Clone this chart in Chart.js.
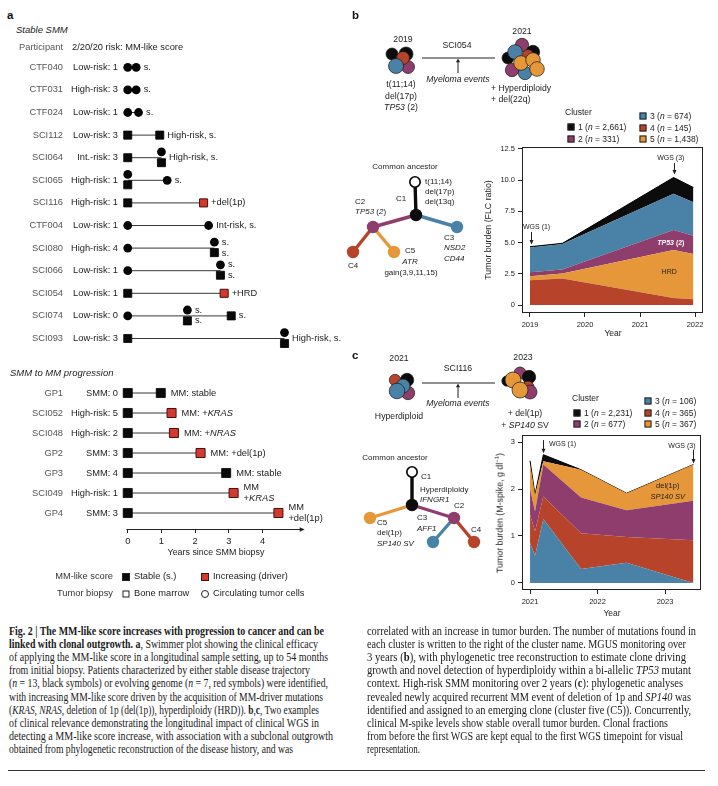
<!DOCTYPE html>
<html>
<head>
<meta charset="utf-8">
<script src="https://cdn.jsdelivr.net/npm/chart.js@4.4.0/dist/chart.umd.min.js"></script>
<style>
body{margin:0;width:718px;height:786px;position:relative;overflow:hidden;background:#fff;font-family:"Liberation Sans",Arial,sans-serif;color:#222}
.tx{position:absolute;white-space:nowrap;line-height:1;font-size:9.3px}
.box{position:absolute}
.cap{position:absolute;white-space:nowrap;line-height:1;font-family:"Liberation Serif",serif;font-size:11.8px;color:#1a1a1a;transform-origin:0 50%}
.rule{position:absolute;left:8px;top:770px;width:697px;height:1px;background:#333}
</style>
</head>
<body>
<div class="box" id="ovBox" style="left:340px;top:0;width:378px;height:560px"><canvas id="ov"></canvas></div>
<div class="box" style="left:0;top:55.7px;width:360px;height:293.8px"><canvas id="stable"></canvas></div>
<div class="box" style="left:0;top:383px;width:360px;height:172px"><canvas id="prog"></canvas></div>
<div class="box" style="left:495px;top:140px;width:223px;height:193px"><canvas id="chartB"></canvas></div>
<div class="box" style="left:495px;top:428px;width:223px;height:182px"><canvas id="chartC"></canvas></div>
<div class="rule"></div>
<script>
// ---------- panel a : swimmer data ----------
const stableIds = ['CTF040','CTF031','CTF024','SCI112','SCI064','SCI065','SCI116','CTF004','SCI080','SCI066','SCI054','SCI074','SCI093'];
const stableRisk = ['Low-risk: 1','High-risk: 3','Low-risk: 1','Low-risk: 3','Int.-risk: 3','High-risk: 1','High-risk: 1','Low-risk: 1','High-risk: 4','Low-risk: 1','Low-risk: 1','Low-risk: 0','Low-risk: 3'];
const stableEnd = [0.25, 0.25, 0.32, 0.95, 1.0, 1.17, 2.25, 2.4, 2.57, 2.75, 2.86, 3.07, 4.65];
// samples per row: [years, row offset, kind]  c = CTC stable, s = marrow stable, r = marrow increasing
const stableMarks = [
  [[0,0,'c'],[0.25,0,'c']],
  [[0,0,'c'],[0.25,0,'c']],
  [[0,0,'c'],[0.32,0,'c']],
  [[0,0,'s'],[0.95,0,'s']],
  [[0,0,'s'],[1.0,-0.26,'c'],[1.0,0.22,'s']],
  [[0,-0.26,'c'],[0,0.2,'s'],[1.17,0,'c']],
  [[0,0,'s'],[2.25,0,'r']],
  [[0,0,'c'],[2.4,0,'c']],
  [[0,0,'c'],[2.57,-0.26,'c'],[2.57,0.2,'s']],
  [[0,0,'c'],[2.75,-0.26,'c'],[2.75,0.2,'s']],
  [[0,0,'s'],[2.86,0,'r']],
  [[0,0,'c'],[1.77,-0.26,'c'],[1.77,0.22,'s'],[3.07,0,'s']],
  [[0,0,'s'],[4.65,-0.26,'c'],[4.65,0.22,'s']]
];
const stableNotes = [
  [0,0.25,0,'s.'],[1,0.25,0,'s.'],[2,0.32,0,'s.'],[3,0.95,0,'High-risk, s.'],[4,1.0,0,'High-risk, s.'],
  [5,1.17,0,'s.'],[6,2.25,0,'+del(1p)'],[7,2.4,0,'Int-risk, s.'],[8,2.57,-0.26,'s.'],[8,2.57,0.22,'s.'],
  [9,2.75,-0.26,'s.'],[9,2.75,0.22,'s.'],[10,2.86,0,'+HRD'],[11,1.77,-0.26,'s.'],[11,1.77,0.22,'s.'],
  [11,3.07,0,'s.'],[12,4.65,0,'High-risk, s.']
];
const progIds = ['GP1','SCI052','SCI048','GP2','GP3','SCI049','GP4'];
const progRisk = ['SMM: 0','High-risk: 5','High-risk: 2','SMM: 3','SMM: 4','High-risk: 1','SMM: 3'];
const progEnd = [0.98, 1.3, 1.37, 2.16, 2.92, 3.14, 4.47];
const progKind = ['s','r','r','r','s','r','r'];
const progNotes = ['MM: stable','MM: +<i>KRAS</i>','MM: +<i>NRAS</i>','MM: +del(1p)','MM: stable','MM\n+<i>KRAS</i>','MM\n+del(1p)'];
const yearTicksA = [0, 1, 2, 3, 4];

// ---------- panel b : FLC ratio, stacked clusters ----------
const yearsB = [2019.0, 2019.59, 2021.61, 2021.97];
const fourB  = [1.98, 2.12, 0.56, 0.46];
const fiveB  = [0.33, 0.40, 3.84, 3.62];
const twoB   = [0.32, 0.32, 1.61, 1.47];
const threeB = [1.98, 2.04, 2.90, 2.68];
const oneB   = [0.06, 0.06, 1.31, 1.19];
const xTicksB = [2019, 2020, 2021, 2022];
const yTicksB = [0, 2.5, 5, 7.5, 10, 12.5];
const yLabelsB = ['0', '2.5', '5.0', '7.5', '10.0', '12.5'];
const legendB = ['1 (<i>n</i> = 2,661)','2 (<i>n</i> = 331)','3 (<i>n</i> = 674)','4 (<i>n</i> = 145)','5 (<i>n</i> = 1,438)'];

// ---------- panel c : M-spike, stacked clusters ----------
const yearsC = [2021.0, 2021.074, 2021.197, 2021.756, 2022.43, 2023.42];
const threeC = [0.85, 0.58, 1.36, 0.30, 0.43, 0.00];
const fourC  = [0.60, 0.52, 0.48, 0.76, 0.55, 0.91];
const twoC   = [0.55, 0.42, 0.68, 0.76, 0.57, 0.84];
const fiveC  = [0.53, 0.36, 0.07, 0.59, 0.36, 0.77];
const oneC   = [0.07, 0.00, 0.14, 0.00, 0.00, 0.00];
const xTicksC = [2021, 2022, 2023];
const yTicksC = [0, 1, 2, 3];
const legendC = ['1 (<i>n</i> = 2,231)','2 (<i>n</i> = 677)','3 (<i>n</i> = 106)','4 (<i>n</i> = 365)','5 (<i>n</i> = 367)'];

// ---------- diagrams (page coordinates) ----------
const treeBX = [415, 416, 373, 457, 353, 394];
const treeBY = [182, 215, 227, 227, 252, 252];
const treeBC = ['w','k','p','b','r','o'];
const treeBEdges = [[0,1],[1,2],[1,3],[2,4],[2,5]];
const treeCX = [412, 412, 370, 454, 433, 474];
const treeCY = [472, 505, 518, 518, 542, 542];
const treeCC = ['w','k','o','p','b','r'];
const treeCEdges = [[0,1],[1,2],[1,3],[3,4],[3,5]];
const blobB1 = [[392,54,6,'k'],[406,54,7,'k'],[408,67,6.5,'p'],[403,58,6.5,'r'],[396,66,7.5,'b']];
const blobB2 = [[522,45,6.7,'p'],[533,52,6.7,'k'],[508,58,6,'k'],[528,55,5.5,'r'],[512,70,6.7,'p'],[525,73,6.7,'b'],[515,52,7.3,'b'],[521,63,7.3,'o'],[533,60,7.3,'o'],[537,69,7.3,'o']];
const blobC1 = [[395,380,5.7,'r'],[407,380,6.7,'k'],[408,393,6.7,'p'],[403,386,7,'b'],[397,391,7.8,'b']];
const blobC2 = [[520,373,6,'p'],[529,377,6.7,'k'],[507,381,5.2,'k'],[528,387,6,'r'],[530,392,7,'p'],[513,380,8,'o'],[520,390,8,'o']];

const COL = {k:'#0c0c0c', p:'#8e3d6c', b:'#4a81a7', r:'#b7442a', o:'#e6973a', w:'#ffffff'};
Chart.defaults.font.family = '"Liberation Sans", Arial, sans-serif';
Chart.defaults.color = '#222';

function noPad(s) { s.paddingTop = 0; s.paddingBottom = 0; s.paddingLeft = 0; s.paddingRight = 0; }

function drawRich(ctx, x, y, str, size, color, align, weight) {
  const parts = []; let it = false;
  str.split(/(<i>|<\/i>)/).forEach(s => {
    if (s === '<i>') it = true; else if (s === '</i>') it = false; else if (s) parts.push([s, it]);
  });
  const f = i => (i ? 'italic ' : '') + (weight || 'normal') + ' ' + size + 'px "Liberation Sans", Arial, sans-serif';
  let w = 0;
  parts.forEach(p => { ctx.font = f(p[1]); w += ctx.measureText(p[0]).width; });
  let cx = align === 'center' ? x - w / 2 : align === 'right' ? x - w : x;
  ctx.fillStyle = color; ctx.textBaseline = 'middle'; ctx.textAlign = 'left';
  parts.forEach(p => { ctx.font = f(p[1]); ctx.fillText(p[0], cx, y); cx += ctx.measureText(p[0]).width; });
}

// end-of-row notes and the arrow axis of the swimmer plot
const swimPlug = {
  id: 'swim',
  afterDatasetsDraw(ch, args, o) {
    const {ctx, scales: {x, y}, chartArea: a} = ch;
    ctx.save();
    o.notes.forEach(([row, t, dy, txt]) => {
      const lines = txt.split('\n');
      lines.forEach((ln, k) => {
        const py = y.getPixelForValue(row + dy) + (k - (lines.length - 1) / 2) * 10.5;
        drawRich(ctx, x.getPixelForValue(t) + o.gap, py, ln, 9.3, '#222', 'left');
      });
    });
    if (o.arrow) {
      const x0 = x.getPixelForValue(-0.04), x1 = x.getPixelForValue(5.25), yy = a.bottom + 0.5;
      ctx.strokeStyle = '#222'; ctx.fillStyle = '#222'; ctx.lineWidth = 1;
      ctx.beginPath(); ctx.moveTo(x0, yy); ctx.lineTo(x1 - 3, yy); ctx.stroke();
      ctx.beginPath(); ctx.moveTo(x1, yy); ctx.lineTo(x1 - 5, yy - 2.2); ctx.lineTo(x1 - 5, yy + 2.2); ctx.closePath(); ctx.fill();
    }
    ctx.restore();
  }
};

function swimmer(id, ids, risks, marks, ends, notes, cfg) {
  const lines = [];
  ends.forEach((e, i) => { lines.push({x: 0, y: i}, {x: e, y: i}, {x: e, y: null}); });
  const pick = k => {
    const d = [];
    marks.forEach((row, i) => row.forEach(m => { if (m[2] === k) d.push({x: m[0], y: i + m[1]}); }));
    return d;
  };
  const yAxis = (labels, weight, width, color) => ({
    type: 'linear', reverse: true, min: -0.5, max: cfg.ymax, position: 'left', weight: weight,
    afterBuildTicks: s => { s.ticks = labels.map((_, i) => ({value: i})); },
    ticks: {callback: v => labels[v], color: color, font: {size: 9.3}, padding: 3, autoSkip: false},
    grid: {display: false, drawTicks: false, tickLength: 0}, border: {display: false},
    afterFit: s => { s.width = width; noPad(s); }
  });
  return new Chart(document.getElementById(id), {
    type: 'scatter',
    data: {datasets: [
      {type: 'line', data: lines, borderColor: '#383838', borderWidth: 1, pointRadius: 0, spanGaps: false, order: 5},
      {data: pick('c'), pointStyle: 'circle', pointRadius: cfg.rc, backgroundColor: '#050505', borderWidth: 0, order: 2},
      {data: pick('s'), pointStyle: 'rect', pointRadius: cfg.rs, backgroundColor: '#0a0a0a', borderColor: '#000', borderWidth: 0.8, order: 1},
      {data: pick('r'), pointStyle: 'rect', pointRadius: cfg.rs, backgroundColor: '#d6382d', borderColor: '#3a1512', borderWidth: 1, order: 0}
    ]},
    options: {
      animation: false, responsive: true, maintainAspectRatio: false, events: [],
      layout: {autoPadding: false, padding: {right: 53.6, top: 0, bottom: 0, left: 0}},
      plugins: {legend: {display: false}, tooltip: {enabled: false}, swim: {notes: notes, gap: cfg.gap, arrow: cfg.axis}},
      scales: {
        x: {type: 'linear', min: -0.2, max: 5.3, display: cfg.axis,
            afterBuildTicks: s => { s.ticks = yearTicksA.map(v => ({value: v})); },
            ticks: {font: {size: 9.3}, color: '#222', padding: 3},
            grid: {drawOnChartArea: false, drawTicks: true, tickLength: 4, color: '#222'},
            border: {display: false},
            afterFit: s => { s.height = cfg.axis ? 26 : 0; noPad(s); }},
        y: yAxis(ids, 1, 66, '#555'),
        y2: yAxis(risks, 0, 55, '#222')
      }
    },
    plugins: [swimPlug]
  });
}

swimmer('stable', stableIds, stableRisk, stableMarks, stableEnd, stableNotes,
  {ymax: 12.5, rc: 4.4, rs: 5.7, gap: 7.5, axis: false});
swimmer('prog', progIds, progRisk, progKind.map((k, i) => [[0, 0, 's'], [progEnd[i], 0, k]]), progEnd,
  progNotes.map((t, i) => [i, progEnd[i], 0, t]),
  {ymax: 6.8, rc: 4.4, rs: 6.4, gap: 10, axis: true});

// frame + annotations for the area charts
const annotPlug = {
  id: 'annot',
  afterDatasetsDraw(ch, args, o) {
    const {ctx, scales: {x, y}, chartArea: a} = ch;
    ctx.save();
    ctx.strokeStyle = '#222'; ctx.lineWidth = 1;
    ctx.strokeRect(a.left + 0.5, a.top + 0.5, a.right - a.left - 1, a.bottom - a.top - 1);
    ctx.fillStyle = '#222';
    o.arrows.forEach(([xv, y1, y2]) => {
      const px = Math.round(x.getPixelForValue(xv)) + 0.5, p1 = y.getPixelForValue(y1), p2 = y.getPixelForValue(y2);
      ctx.beginPath(); ctx.moveTo(px, p1); ctx.lineTo(px, p2 - 3); ctx.stroke();
      ctx.beginPath(); ctx.moveTo(px, p2); ctx.lineTo(px - 2, p2 - 4.5); ctx.lineTo(px + 2, p2 - 4.5); ctx.closePath(); ctx.fill();
    });
    o.texts.forEach(([xv, yv, s, al, col, size, wt]) => {
      drawRich(ctx, x.getPixelForValue(xv), y.getPixelForValue(yv), s, size, col, al, wt);
    });
    ctx.restore();
  }
};

function areaChart(id, years, layers, cfg) {
  const ds = layers.map(([vals, c], i) => ({
    data: years.map((x, k) => ({x: x, y: vals[k]})),
    fill: i === 0 ? 'origin' : '-1',
    backgroundColor: COL[c],
    borderColor: i === layers.length - 1 ? '#000' : COL[c],
    borderWidth: i === layers.length - 1 ? 1 : 0,
    pointRadius: 0, tension: 0
  }));
  return new Chart(document.getElementById(id), {
    type: 'line',
    data: {datasets: ds},
    options: {
      animation: false, responsive: true, maintainAspectRatio: false, events: [],
      layout: {autoPadding: false, padding: {top: 7, right: cfg.padR, left: 0, bottom: 0}},
      plugins: {legend: {display: false}, tooltip: {enabled: false}, annot: {arrows: cfg.arrows, texts: cfg.texts}},
      scales: {
        x: {type: 'linear', min: cfg.xmin, max: cfg.xmax,
            afterBuildTicks: s => { s.ticks = cfg.xTicks.map(v => ({value: v})); },
            ticks: {callback: v => String(v), font: {size: 7.5}, color: '#222', padding: 3},
            grid: {drawOnChartArea: false, tickLength: 4, color: '#222'},
            border: {display: false},
            afterFit: s => { s.height = 20; noPad(s); }},
        y: {type: 'linear', stacked: true, min: cfg.ymin, max: cfg.ymax,
            afterBuildTicks: s => { s.ticks = cfg.yTicks.map(v => ({value: v})); },
            ticks: {callback: v => cfg.yLabels[cfg.yTicks.indexOf(v)], font: {size: 7.5}, color: '#222', padding: 3},
            grid: {drawOnChartArea: false, tickLength: 4, color: '#222'},
            border: {display: false},
            afterFit: s => { s.width = 27; noPad(s); }}
      }
    },
    plugins: [annotPlug]
  });
}

areaChart('chartB', yearsB, [[fourB,'r'],[fiveB,'o'],[twoB,'p'],[threeB,'b'],[oneB,'k']], {
  xmin: 2018.855, xmax: 2022.145, ymin: -0.64, ymax: 12.66, padR: 15,
  xTicks: xTicksB, yTicks: yTicksB, yLabels: yLabelsB,
  arrows: [[2019.02, 5.85, 4.85], [2021.61, 11.38, 10.45]],
  texts: [[2019.12, 6.25, 'WGS (1)', 'center', '#222', 7, 'normal'],
          [2021.56, 11.78, 'WGS (3)', 'center', '#222', 7, 'normal'],
          [2021.56, 4.97, '<i>TP53</i> (2)', 'center', '#ffffff', 7, 'bold'],
          [2021.53, 2.64, 'HRD', 'center', '#222', 7, 'normal']]
});
areaChart('chartC', yearsC, [[threeC,'b'],[fourC,'r'],[twoC,'p'],[fiveC,'o'],[oneC,'k']], {
  xmin: 2020.881, xmax: 2023.533, ymin: -0.149, ymax: 3.149, padR: 17,
  xTicks: xTicksC, yTicks: yTicksC, yLabels: ['0','1','2','3'],
  arrows: [[2021.19, 3.04, 2.76], [2023.42, 2.83, 2.54]],
  texts: [[2021.28, 2.96, 'WGS (1)', 'left', '#222', 7, 'normal'],
          [2023.25, 2.91, 'WGS (3)', 'center', '#222', 7, 'normal'],
          [2023.04, 2.06, 'del(1p)', 'center', '#222', 7.5, 'normal'],
          [2023.04, 1.83, '<i>SP140 SV</i>', 'center', '#222', 7.5, 'normal']]
});

// ---------- diagram overlay: trees, clone blobs, timelines ----------
const ov = [];
function addTree(nx, ny, nc, edges) {
  edges.forEach(([a, b]) => ov.push({type: 'line', data: [{x: nx[a], y: ny[a]}, {x: nx[b], y: ny[b]}],
    borderColor: COL[nc[b]], borderWidth: 3.4, pointRadius: 0, order: 6}));
  ov.push({type: 'bubble', data: nx.map((x, i) => ({x: x, y: ny[i], r: nc[i] === 'w' ? 5.2 : 6.2})),
    backgroundColor: nc.map(c => COL[c]), borderColor: nc.map(c => c === 'w' ? '#000' : COL[c]),
    borderWidth: nc.map(c => c === 'w' ? 1.6 : 0), order: 2});
}
function addBlob(b) {
  ov.push({type: 'bubble', data: b.map(([x, y, r]) => ({x: x, y: y, r: r})),
    backgroundColor: b.map(d => COL[d[3]]), borderColor: '#1a1a1a', borderWidth: 0.7, order: 1});
}
function addTimeline(y0) {
  ov.push({type: 'line', data: [{x: 422, y: y0}, {x: 495, y: y0}], borderColor: '#222', borderWidth: 1, pointRadius: 0, order: 3});
  ov.push({type: 'line', data: [{x: 458, y: y0 + 15}, {x: 458, y: y0 + 3}], borderColor: '#222', borderWidth: 1, pointRadius: 0, order: 3});
  ov.push({type: 'scatter', data: [{x: 458, y: y0 + 3}], pointStyle: 'triangle', pointRadius: 2.4, backgroundColor: '#222', borderWidth: 0, order: 3});
}
addTree(treeBX, treeBY, treeBC, treeBEdges);
addTree(treeCX, treeCY, treeCC, treeCEdges);
[blobB1, blobB2, blobC1, blobC2].forEach(addBlob);
addTimeline(58);
addTimeline(383);
new Chart(document.getElementById('ov'), {
  type: 'scatter',
  data: {datasets: ov},
  options: {
    animation: false, responsive: true, maintainAspectRatio: false, events: [],
    layout: {autoPadding: false, padding: 0},
    plugins: {legend: {display: false}, tooltip: {enabled: false}},
    scales: {x: {type: 'linear', min: 340, max: 718, display: false},
             y: {type: 'linear', min: 0, max: 560, reverse: true, display: false}}
  }
});

// ---------- text ----------
function put(x, y, html, al, css) {
  const d = document.createElement('div');
  d.className = 'tx'; d.innerHTML = html;
  d.style.cssText = 'left:' + x + 'px;top:' + y + 'px;' + (css || '');
  const tx = al === 'c' ? '-50%' : al === 'r' ? '-100%' : '0';
  d.style.transform = al === 'rot' ? 'translate(-50%,-50%) rotate(-90deg)' : 'translate(' + tx + ',-50%)';
  document.body.appendChild(d);
}
function sq(x, y, bg, css) {
  put(x, y, '', 'c', 'width:7px;height:7px;background:' + bg + ';border:0.7px solid #222;box-sizing:border-box;' + (css || ''));
}
const bold = 'font-weight:bold;font-size:11.5px;color:#111';
// panel a
put(7, 16, 'a', 'l', bold);
put(16, 30, '<i>Stable SMM</i>', 'l', 'font-size:9.5px');
put(63, 48, 'Participant', 'r', 'color:#555');
put(72, 48, '2/20/20 risk: MM-like score');
put(10, 373, '<i>SMM to MM progression</i>', 'l', 'font-size:9.5px');
put(216, 552, 'Years since SMM biopsy', 'c', 'font-size:8.9px');
put(113, 577, 'MM-like score', 'r', 'color:#333');
sq(126, 577, '#0a0a0a', 'width:8px;height:8px');
put(134, 577, 'Stable (s.)');
sq(205, 577, '#d6382d', 'width:8px;height:8px;border-color:#3a1512');
put(213, 577, 'Increasing (driver)');
put(113, 594, 'Tumor biopsy', 'r', 'color:#333');
sq(126, 594, '#fff', 'border:1px solid #222');
put(134, 594, 'Bone marrow');
sq(205, 594, '#fff', 'border:1px solid #222;border-radius:50%;width:8px;height:8px');
put(213, 594, 'Circulating tumor cells');
// panel b
put(352, 16, 'b', 'l', bold);
const s87 = 'font-size:8.7px';
put(403, 39, '2019', 'c', s87);
put(457, 45, 'SCI054', 'c', s87);
put(458, 79, '<i>Myeloma events</i>', 'c', s87);
put(522, 31, '2021', 'c', s87);
put(401, 84, 't(11;14)', 'c', s87);
put(401, 96, 'del(17p)', 'c', s87);
put(401, 107, '<i>TP53</i> (2)', 'c', s87);
put(491, 88, '+ Hyperdiploidy', 'l', s87);
put(491, 99, '+ del(22q)', 'l', s87);
const s85 = 'font-size:8.5px';
put(565, 112, 'Cluster', 'l', s85);
[[571,127,'k',0],[571,139,'p',1],[643,116,'b',2],[643,128,'r',3],[643,139,'o',4]].forEach(([x, y, c, i]) => {
  sq(x, y, COL[c]); put(x + 7, y, legendB[i], 'l', s85);
});
put(488, 230, 'Tumor burden (FLC ratio)', 'rot', 'font-size:8.8px');
put(613, 333, 'Year', 'c', s85);
const s8 = 'font-size:8px';
put(405, 167, 'Common ancestor', 'c', s8);
put(425, 182, 't(11;14)', 'l', s8);
put(425, 192, 'del(17p)', 'l', s8);
put(425, 202, 'del(13q)', 'l', s8);
put(401, 199, 'C1', 'c', s8);
put(355, 202, 'C2', 'l', s8);
put(355, 212, '<i>TP53</i> (<i>2</i>)', 'l', s8);
put(444, 238, 'C3', 'l', s8);
put(444, 248, '<i>NSD2</i>', 'l', s8);
put(444, 259, '<i>CD44</i>', 'l', s8);
put(348, 266, 'C4', 'l', s8);
put(405, 251, 'C5', 'l', s8);
put(410, 262, '<i>ATR</i>', 'c', s8);
put(411, 273, 'gain(3,9,11,15)', 'c', s8);
// panel c
put(352, 356, 'c', 'l', bold);
put(399, 358, '2021', 'c', s87);
put(458, 368, 'SCI116', 'c', s87);
put(458, 403, '<i>Myeloma events</i>', 'c', s87);
put(523, 357, '2023', 'c', s87);
put(399, 416, 'Hyperdiploid', 'c', s87);
put(525, 413, '+ del(1p)', 'c', s87);
put(525, 425, '+ <i>SP140</i> SV', 'c', s87);
put(572, 398, 'Cluster', 'l', s85);
[[577,413,'k',0],[577,424,'p',1],[648,401,'b',2],[648,413,'r',3],[648,424,'o',4]].forEach(([x, y, c, i]) => {
  sq(x, y, COL[c]); put(x + 7, y, legendC[i], 'l', s85);
});
put(499, 513, 'Tumor burden (M-spike, g dl<sup style="font-size:6px">−1</sup>)', 'rot', 'font-size:8.8px');
put(612, 613, 'Year', 'c', s85);
put(395, 458, 'Common ancestor', 'c', s8);
put(421, 477, 'C1', 'l', s8);
put(420, 490, 'Hyperdiploidy', 'l', s8);
put(420, 500, '<i>IFNGR1</i>', 'l', s8);
put(377, 523, 'C5', 'l', s8);
put(377, 533, 'del(1p)', 'l', s8);
put(377, 544, '<i>SP140 SV</i>', 'l', s8);
put(417, 518, 'C3', 'l', s8);
put(417, 529, '<i>AFF1</i>', 'l', s8);
put(454, 506, 'C2', 'l', s8);
put(471, 530, 'C4', 'l', s8);

// ---------- caption ----------
const capLeft = [
  ['<b>Fig. 2 | The MM-like score increases with progression to cancer and can be</b>', 324],
  ['<b>linked with clonal outgrowth.</b> <b>a</b>, Swimmer plot showing the clinical efficacy', 318],
  ['of applying the MM-like score in a longitudinal sample setting, up to 54 months', 328],
  ['from initial biopsy. Patients characterized by either stable disease trajectory', 310],
  ['(<i>n</i> = 13, black symbols) or evolving genome (<i>n</i> = 7, red symbols) were identified,', 328],
  ['with increasing MM-like score driven by the acquisition of MM-driver mutations', 323],
  ['(<i>KRAS</i>, <i>NRAS</i>, deletion of 1p (del(1p)), hyperdiploidy (HRD)). <b>b</b>,<b>c</b>, Two examples', 319],
  ['of clinical relevance demonstrating the longitudinal impact of clinical WGS in', 319],
  ['detecting a MM-like score increase, with association with a subclonal outgrowth', 333],
  ['obtained from phylogenetic reconstruction of the disease history, and was', 293]
];
const capRight = [
  ['correlated with an increase in tumor burden. The number of mutations found in', 696],
  ['each cluster is written to the right of the cluster name. MGUS monitoring over', 686],
  ['3 years (<b>b</b>), with phylogenetic tree reconstruction to estimate clone driving', 686],
  ['growth and novel detection of hyperdiploidy within a bi-allelic <i>TP53</i> mutant', 691],
  ['context. High-risk SMM monitoring over 2 years (<b>c</b>): phylogenetic analyses', 683],
  ['revealed newly acquired recurrent MM event of deletion of 1p and <i>SP140</i> was', 691],
  ['identified and assigned to an emerging clone (cluster five (C5)). Concurrently,', 691],
  ['clinical M-spike levels show stable overall tumor burden. Clonal fractions', 668],
  ['from before the first WGS are kept equal to the first WGS timepoint for visual', 683],
  ['representation.', 420]
];
function caption(lines, x0) {
  lines.forEach(([html, x1], i) => {
    const d = document.createElement('div');
    d.className = 'cap'; d.innerHTML = html;
    d.style.left = x0 + 'px'; d.style.top = (632 + i * 13.1) + 'px';
    document.body.appendChild(d);
    const w = d.getBoundingClientRect().width;
    d.style.transform = 'translateY(-50%) scaleX(' + ((x1 - x0) / w).toFixed(4) + ')';
  });
}
caption(capLeft, 9);
caption(capRight, 367);
</script>
</body>
</html>
